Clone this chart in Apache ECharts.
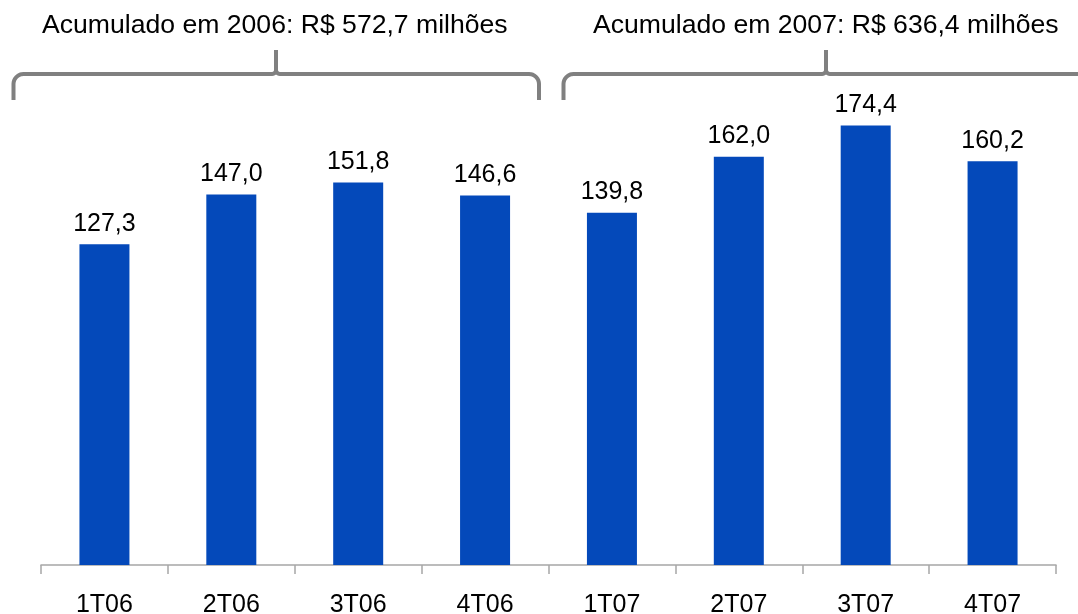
<!DOCTYPE html>
<html>
<head>
<meta charset="utf-8">
<script src="https://cdn.jsdelivr.net/npm/echarts@6/dist/echarts.min.js"></script>
<style>html,body{margin:0;padding:0;background:#fff}#c{width:1078px;height:614px}</style>
</head>
<body>
<div id="c"></div>
<script>
const categories = ['1T06','2T06','3T06','4T06','1T07','2T07','3T07','4T07'];
const values = [127.3, 147.0, 151.8, 146.6, 139.8, 162.0, 174.4, 160.2];
const groupTitles = ['Acumulado em 2006: R$ 572,7 milhões', 'Acumulado em 2007: R$ 636,4 milhões'];

const FONT = '"Liberation Sans", Arial, sans-serif';
const fmt = v => v.toFixed(1).replace('.', ',');

const chart = echarts.init(document.getElementById('c'), null, {renderer: 'canvas'});

// arc points: center (cx,cy), radius r, from angle a0 to a1 (radians)
function arc(cx, cy, r, a0, a1, n) {
  const pts = [];
  for (let i = 0; i <= n; i++) {
    const a = a0 + (a1 - a0) * i / n;
    pts.push([cx + r * Math.cos(a), cy + r * Math.sin(a)]);
  }
  return pts;
}
function braceLines(x1, xm, x2, yLine, yEnd, yPeak, r, rm) {
  const PI = Math.PI;
  const left = [[x1, yEnd]].concat(
    arc(x1 + r, yLine + r, r, PI, 1.5 * PI, 8),
    arc(xm - rm, yLine - rm, rm, 0.5 * PI, 0, 6),
    [[xm, yPeak]]
  );
  const right = [[xm, yPeak]].concat(
    arc(xm + rm, yLine - rm, rm, PI, 0.5 * PI, 6),
    arc(x2 - r, yLine + r, r, 1.5 * PI, 2 * PI, 8),
    [[x2, yEnd]]
  );
  const st = {stroke: '#808080', lineWidth: 4, fill: null, lineJoin: 'round'};
  return [
    {type: 'polyline', shape: {points: left}, style: st, silent: true},
    {type: 'polyline', shape: {points: right}, style: st, silent: true}
  ];
}

chart.setOption({
  animation: false,
  backgroundColor: '#ffffff',
  grid: {left: 41, right: 22, top: 61, bottom: 49, containLabel: false, outerBoundsMode: 'none'},
  xAxis: {
    type: 'category',
    data: categories,
    boundaryGap: true,
    axisLine: {show: true, lineStyle: {color: '#a6a6a6', width: 1.5}},
    axisTick: {show: true, length: 9, alignWithLabel: false, lineStyle: {color: '#a6a6a6', width: 1.5}},
    axisLabel: {color: '#000', fontSize: 25, fontFamily: FONT, margin: 28}
  },
  yAxis: {
    type: 'value', min: 0, max: 200, show: false,
    splitLine: {show: false}
  },
  series: [{
    type: 'bar',
    data: values,
    barWidth: 50,
    itemStyle: {color: '#0449BA'},
    label: {
      show: true, position: 'top', distance: 8,
      color: '#000', fontSize: 25, fontFamily: FONT,
      formatter: p => fmt(p.value)
    }
  }],
  graphic: [].concat(
    braceLines(13.5, 276, 539, 74, 100, 50, 10, 4),
    braceLines(563.5, 826, 1095, 74, 100, 50, 10, 4),
    [
      {type: 'text', left: 42, top: 12,
       style: {text: groupTitles[0], fill: '#000', font: '26.6px ' + FONT}},
      {type: 'text', left: 593, top: 12,
       style: {text: groupTitles[1], fill: '#000', font: '26.6px ' + FONT}}
    ]
  )
});
</script>
</body>
</html>
